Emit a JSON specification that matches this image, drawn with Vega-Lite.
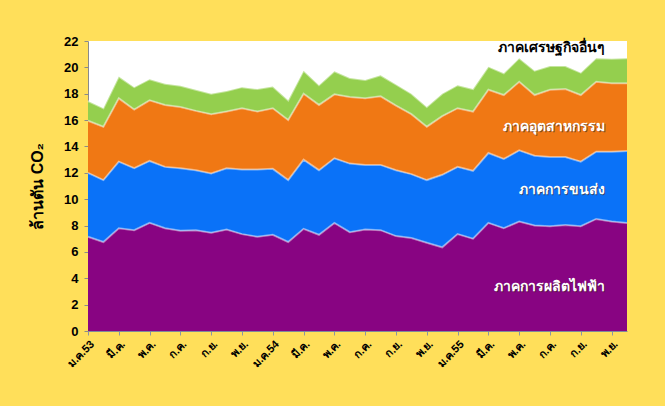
{
  "$schema": "https://vega.github.io/schema/vega-lite/v6.json",
  "width": 539,
  "height": 290,
  "autosize": {"type": "none"},
  "padding": {"left": 88, "top": 41, "right": 38, "bottom": 75},
  "background": "#FFDF5A",
  "config": {
    "view": {"fill": "white", "stroke": null},
    "font": "Liberation Sans"
  },
  "datasets": {
    "co2": [
      {"m": 0, "d_e": 7.15, "c_t": 4.85, "b_i": 3.95, "a_o": 1.5},
      {"m": 1, "d_e": 6.75, "c_t": 4.7, "b_i": 4.05, "a_o": 1.4},
      {"m": 2, "d_e": 7.8, "c_t": 5.05, "b_i": 4.8, "a_o": 1.65},
      {"m": 3, "d_e": 7.65, "c_t": 4.7, "b_i": 4.45, "a_o": 1.7},
      {"m": 4, "d_e": 8.2, "c_t": 4.7, "b_i": 4.6, "a_o": 1.6},
      {"m": 5, "d_e": 7.8, "c_t": 4.65, "b_i": 4.7, "a_o": 1.6},
      {"m": 6, "d_e": 7.6, "c_t": 4.75, "b_i": 4.65, "a_o": 1.6},
      {"m": 7, "d_e": 7.65, "c_t": 4.55, "b_i": 4.5, "a_o": 1.6},
      {"m": 8, "d_e": 7.45, "c_t": 4.5, "b_i": 4.5, "a_o": 1.55},
      {"m": 9, "d_e": 7.7, "c_t": 4.65, "b_i": 4.3, "a_o": 1.55},
      {"m": 10, "d_e": 7.35, "c_t": 4.9, "b_i": 4.65, "a_o": 1.6},
      {"m": 11, "d_e": 7.15, "c_t": 5.1, "b_i": 4.4, "a_o": 1.7},
      {"m": 12, "d_e": 7.3, "c_t": 5.0, "b_i": 4.6, "a_o": 1.65},
      {"m": 13, "d_e": 6.75, "c_t": 4.7, "b_i": 4.55, "a_o": 1.5},
      {"m": 14, "d_e": 7.75, "c_t": 5.25, "b_i": 5.0, "a_o": 1.75},
      {"m": 15, "d_e": 7.3, "c_t": 4.9, "b_i": 4.95, "a_o": 1.5},
      {"m": 16, "d_e": 8.2, "c_t": 4.9, "b_i": 4.85, "a_o": 1.75},
      {"m": 17, "d_e": 7.5, "c_t": 5.2, "b_i": 5.05, "a_o": 1.45},
      {"m": 18, "d_e": 7.7, "c_t": 4.9, "b_i": 5.05, "a_o": 1.4},
      {"m": 19, "d_e": 7.65, "c_t": 4.95, "b_i": 5.2, "a_o": 1.6},
      {"m": 20, "d_e": 7.2, "c_t": 5.0, "b_i": 4.9, "a_o": 1.6},
      {"m": 21, "d_e": 7.05, "c_t": 4.85, "b_i": 4.55, "a_o": 1.55},
      {"m": 22, "d_e": 6.7, "c_t": 4.75, "b_i": 4.05, "a_o": 1.5},
      {"m": 23, "d_e": 6.35, "c_t": 5.5, "b_i": 4.45, "a_o": 1.7},
      {"m": 24, "d_e": 7.35, "c_t": 5.1, "b_i": 4.45, "a_o": 1.75},
      {"m": 25, "d_e": 7.0, "c_t": 5.15, "b_i": 4.5, "a_o": 1.7},
      {"m": 26, "d_e": 8.2, "c_t": 5.3, "b_i": 4.8, "a_o": 1.75},
      {"m": 27, "d_e": 7.8, "c_t": 5.25, "b_i": 4.85, "a_o": 1.65},
      {"m": 28, "d_e": 8.3, "c_t": 5.4, "b_i": 5.2, "a_o": 1.8},
      {"m": 29, "d_e": 8.0, "c_t": 5.3, "b_i": 4.6, "a_o": 1.85},
      {"m": 30, "d_e": 7.95, "c_t": 5.25, "b_i": 5.1, "a_o": 1.8},
      {"m": 31, "d_e": 8.05, "c_t": 5.15, "b_i": 5.15, "a_o": 1.75},
      {"m": 32, "d_e": 7.95, "c_t": 4.9, "b_i": 5.05, "a_o": 1.7},
      {"m": 33, "d_e": 8.5, "c_t": 5.1, "b_i": 5.3, "a_o": 1.8},
      {"m": 34, "d_e": 8.3, "c_t": 5.3, "b_i": 5.2, "a_o": 1.85},
      {"m": 35, "d_e": 8.2, "c_t": 5.45, "b_i": 5.15, "a_o": 1.9}
    ],
    "labels": [
      {"m": 33.6, "val": 21.5, "name": "ภาคเศรษฐกิจอื่นๆ", "dark": true},
      {"m": 33.6, "val": 15.5, "name": "ภาคอุตสาหกรรม", "dark": false},
      {"m": 33.6, "val": 10.7, "name": "ภาคการขนส่ง", "dark": false},
      {"m": 33.6, "val": 3.35, "name": "ภาคการผลิตไฟฟ้า", "dark": false}
    ]
  },
  "encoding": {
    "x": {
      "field": "m",
      "type": "quantitative",
      "scale": {"domain": [0, 35], "nice": false, "zero": false},
      "axis": {
        "values": [0, 2, 4, 6, 8, 10, 12, 14, 16, 18, 20, 22, 24, 26, 28, 30, 32, 34],
        "labelExpr": "['ม.ค.53','มี.ค.','พ.ค.','ก.ค.','ก.ย.','พ.ย.','ม.ค.54','มี.ค.','พ.ค.','ก.ค.','ก.ย.','พ.ย.','ม.ค.55','มี.ค.','พ.ค.','ก.ค.','ก.ย.','พ.ย.'][datum.value/2]",
        "labelAngle": -45,
        "labelOverlap": false,
        "labelFontSize": 11,
        "labelFontWeight": "bold",
        "labelColor": "#000000",
        "labelPadding": 3,
        "grid": false,
        "domainColor": "#7f8a9a",
        "tickColor": "#8a95a5",
        "tickSize": 4,
        "title": null
      }
    },
    "y": {
      "field": "val",
      "type": "quantitative",
      "scale": {"domain": [0, 22], "nice": false},
      "axis": {
        "values": [0, 2, 4, 6, 8, 10, 12, 14, 16, 18, 20, 22],
        "labelOverlap": false,
        "labelFontSize": 13,
        "labelFontWeight": "bold",
        "labelColor": "#000000",
        "labelPadding": 6,
        "grid": false,
        "domainColor": "#8a8a8a",
        "tickColor": "#8a8a8a",
        "tickSize": 4,
        "title": "ล้านตัน CO₂",
        "titleFontSize": 16,
        "titleFontWeight": "bold",
        "titleColor": "#000000",
        "titlePadding": 18
      }
    }
  },
  "layer": [
    {
      "data": {"name": "co2"},
      "transform": [{"fold": ["d_e", "c_t", "b_i", "a_o"], "as": ["sector", "val"]}],
      "mark": {"type": "area", "interpolate": "linear"},
      "encoding": {
        "color": {
          "field": "sector",
          "type": "nominal",
          "scale": {"domain": ["d_e", "c_t", "b_i", "a_o"], "range": ["#880482", "#0A72F8", "#F07814", "#94CF4E"]},
          "legend": null
        }
      }
    },
    {
      "data": {"name": "co2"},
      "transform": [{"fold": ["d_e", "c_t", "b_i", "a_o"], "as": ["sector", "val"]}],
      "mark": {"type": "area", "interpolate": "linear", "fillOpacity": 0, "line": {"color": "#ffffff", "opacity": 0.45, "strokeWidth": 2}},
      "encoding": {
        "detail": {"field": "sector", "type": "nominal"}
      }
    },
    {
      "data": {"name": "labels"},
      "transform": [{"filter": "datum.dark"}],
      "mark": {"type": "text", "align": "right", "baseline": "middle", "fontSize": 14, "fontWeight": "bold", "color": "#000000"},
      "encoding": {
        "text": {"field": "name"}
      }
    },
    {
      "data": {"name": "labels"},
      "transform": [{"filter": "!datum.dark"}],
      "mark": {"type": "text", "align": "right", "baseline": "middle", "fontSize": 14, "fontWeight": "bold", "color": "#3a2a20", "dx": 1, "dy": 1, "opacity": 0.6},
      "encoding": {
        "text": {"field": "name"}
      }
    },
    {
      "data": {"name": "labels"},
      "transform": [{"filter": "!datum.dark"}],
      "mark": {"type": "text", "align": "right", "baseline": "middle", "fontSize": 14, "fontWeight": "bold", "color": "#ffffff"},
      "encoding": {
        "text": {"field": "name"}
      }
    }
  ]
}
